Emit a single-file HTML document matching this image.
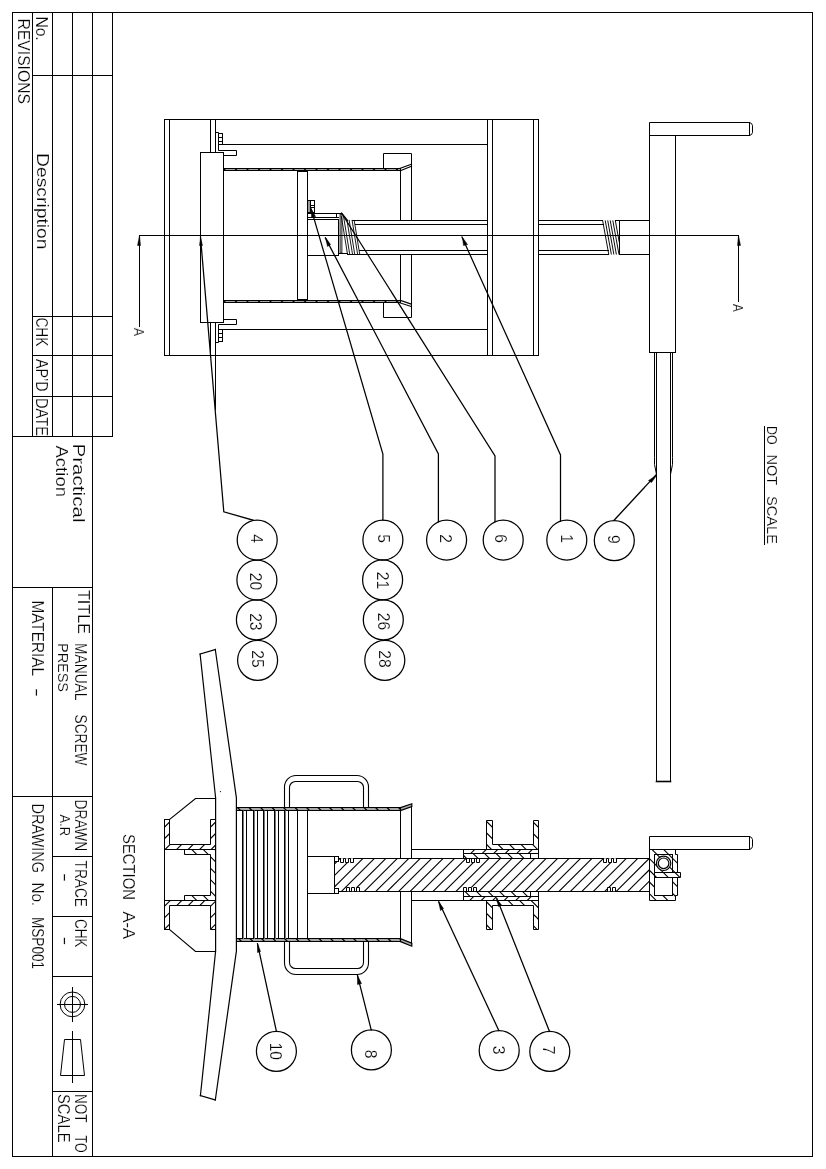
<!DOCTYPE html>
<html lang="en"><head><meta charset="utf-8"><title>MANUAL SCREW PRESS - MSP001</title>
<style>
html,body{margin:0;padding:0;background:#fff;}
body{width:826px;height:1169px;overflow:hidden;}
svg{display:block;}
g.txt{opacity:0.999;}
text{font-family:"Liberation Sans",sans-serif;fill:#000;stroke:#fff;stroke-width:0.18px;stroke-linejoin:round;}
</style></head><body>
<svg width="826" height="1169" viewBox="0 0 826 1169">
<defs>
<clipPath id="c1"><polygon points="223.50,168.50 400.50,168.50 400.50,170.50 223.50,170.50"/></clipPath>
<clipPath id="c2"><polygon points="223.50,300.50 400.50,300.50 400.50,302.50 223.50,302.50"/></clipPath>
<clipPath id="c3"><polygon points="164.50,819.50 169.50,819.50 169.50,844.50 210.50,844.50 210.50,819.50 215.50,819.50 215.50,849.50 164.50,849.50"/></clipPath>
<clipPath id="c4"><polygon points="164.50,929.50 169.50,929.50 169.50,905.50 210.50,905.50 210.50,929.50 215.50,929.50 215.50,900.50 164.50,900.50"/></clipPath>
<clipPath id="c5"><polygon points="184.50,849.50 215.50,849.50 215.50,900.50 184.50,900.50 184.50,895.50 210.50,895.50 210.50,854.50 184.50,854.50"/></clipPath>
<clipPath id="c6"><polygon points="236.50,807.50 400.50,807.50 400.50,810.50 236.50,810.50"/></clipPath>
<clipPath id="c7"><polygon points="236.50,938.50 400.50,938.50 400.50,941.50 236.50,941.50"/></clipPath>
<clipPath id="c8"><polygon points="334.50,858.50 649.50,858.50 649.50,891.50 334.50,891.50"/></clipPath>
<clipPath id="c9"><polygon points="463.50,849.50 538.50,849.50 538.50,853.50 463.50,853.50"/></clipPath>
<clipPath id="c10"><polygon points="463.50,853.50 530.50,853.50 530.50,858.50 463.50,858.50"/></clipPath>
<clipPath id="c11"><polygon points="463.50,896.50 538.50,896.50 538.50,900.50 463.50,900.50"/></clipPath>
<clipPath id="c12"><polygon points="463.50,891.50 530.50,891.50 530.50,896.50 463.50,896.50"/></clipPath>
<clipPath id="c13"><polygon points="486.50,820.50 492.50,820.50 492.50,844.50 533.50,844.50 533.50,820.50 538.50,820.50 538.50,849.50 486.50,849.50"/></clipPath>
<clipPath id="c14"><polygon points="486.50,929.50 492.50,929.50 492.50,905.50 533.50,905.50 533.50,929.50 538.50,929.50 538.50,900.50 486.50,900.50"/></clipPath>
<clipPath id="c15"><polygon points="649.50,849.50 675.50,849.50 675.50,854.50 677.50,854.50 677.50,895.50 675.50,895.50 675.50,900.50 649.50,900.50"/></clipPath>
<clipPath id="c16"><polygon points="654.50,872.50 680.50,872.50 680.50,877.50 654.50,877.50"/></clipPath>
</defs>
<rect x="0" y="0" width="826" height="1169" fill="#fff"/>
<g fill="none" stroke="#000" stroke-width="1" stroke-linecap="square">
<!-- sheet border -->
<rect x="12.50" y="12.50" width="800.00" height="1144.00"/>
<!-- title block grid -->
<line x1="32.50" y1="12.50" x2="32.50" y2="436.50"/>
<line x1="72.50" y1="12.50" x2="72.50" y2="436.50"/>
<line x1="112.50" y1="12.50" x2="112.50" y2="436.50"/>
<line x1="52.50" y1="12.50" x2="52.50" y2="436.50"/>
<line x1="52.50" y1="587.50" x2="52.50" y2="1156.50"/>
<line x1="92.50" y1="12.50" x2="92.50" y2="1156.50"/>
<line x1="32.50" y1="75.50" x2="112.50" y2="75.50"/>
<line x1="32.50" y1="316.50" x2="112.50" y2="316.50"/>
<line x1="32.50" y1="355.50" x2="112.50" y2="355.50"/>
<line x1="32.50" y1="396.50" x2="112.50" y2="396.50"/>
<line x1="12.50" y1="436.50" x2="112.50" y2="436.50"/>
<line x1="12.50" y1="587.50" x2="92.50" y2="587.50"/>
<line x1="12.50" y1="796.50" x2="92.50" y2="796.50"/>
<line x1="52.50" y1="856.50" x2="92.50" y2="856.50"/>
<line x1="52.50" y1="916.50" x2="92.50" y2="916.50"/>
<line x1="52.50" y1="976.50" x2="92.50" y2="976.50"/>
<line x1="52.50" y1="1091.50" x2="92.50" y2="1091.50"/>
<!-- projection symbol -->
<circle cx="72.50" cy="1004.40" r="12.40"/>
<circle cx="72.50" cy="1004.40" r="8.00"/>
<line x1="57.50" y1="1004.50" x2="87.50" y2="1004.50"/>
<line x1="72.50" y1="987.50" x2="72.50" y2="1021.50"/>
<polygon points="64.50,1039.50 80.50,1039.50 84.50,1075.50 60.50,1075.50" stroke-linecap="butt"/>
<line x1="72.50" y1="1031.50" x2="72.50" y2="1082.50"/>
<!-- texts -->
<g class="txt">
<text transform="translate(17.60,18.50) rotate(90)" font-size="15.6" textLength="85.5" lengthAdjust="spacingAndGlyphs">REVISIONS</text>
<text transform="translate(35.50,16.40) rotate(90)" font-size="15.6" textLength="24.3" lengthAdjust="spacingAndGlyphs">No.</text>
<text transform="translate(37.40,153.00) rotate(90)" font-size="15.6" textLength="96.5" lengthAdjust="spacingAndGlyphs">Description</text>
<text transform="translate(36.30,317.40) rotate(90)" font-size="15.6" textLength="29.1" lengthAdjust="spacingAndGlyphs">CHK</text>
<text transform="translate(36.30,359.00) rotate(90)" font-size="15.6" textLength="32.5" lengthAdjust="spacingAndGlyphs">AP&#8217;D</text>
<text transform="translate(36.30,398.00) rotate(90)" font-size="15.6" textLength="38.1" lengthAdjust="spacingAndGlyphs">DATE</text>
<text transform="translate(73.20,443.40) rotate(90)" font-size="15.6" textLength="79.1" lengthAdjust="spacingAndGlyphs">Practical</text>
<text transform="translate(56.40,445.50) rotate(90)" font-size="15.6" textLength="51.5" lengthAdjust="spacingAndGlyphs">Action</text>
<text transform="translate(77.60,590.00) rotate(90)" font-size="15.6" textLength="44.0" lengthAdjust="spacingAndGlyphs">TITLE</text>
<text transform="translate(75.00,643.00) rotate(90)" font-size="15.6" textLength="57.5" lengthAdjust="spacingAndGlyphs">MANUAL</text>
<text transform="translate(75.00,714.50) rotate(90)" font-size="15.6" textLength="51.0" lengthAdjust="spacingAndGlyphs">SCREW</text>
<text transform="translate(58.00,643.00) rotate(90)" font-size="14.8" textLength="49.0" lengthAdjust="spacingAndGlyphs">PRESS</text>
<text transform="translate(32.00,600.50) rotate(90)" font-size="15.6" textLength="75.5" lengthAdjust="spacingAndGlyphs">MATERIAL</text>
<text transform="translate(32.00,687.70) rotate(90)" font-size="15.6" textLength="9.4" lengthAdjust="spacingAndGlyphs">-</text>
<text transform="translate(75.20,799.50) rotate(90)" font-size="15.6" textLength="51.6" lengthAdjust="spacingAndGlyphs">DRAWN</text>
<text transform="translate(60.20,814.50) rotate(90)" font-size="14.8" textLength="21.5" lengthAdjust="spacingAndGlyphs">A.R</text>
<text transform="translate(75.20,860.50) rotate(90)" font-size="15.6" textLength="46.5" lengthAdjust="spacingAndGlyphs">TRACE</text>
<text transform="translate(59.50,872.80) rotate(90)" font-size="15.6" textLength="9.4" lengthAdjust="spacingAndGlyphs">-</text>
<text transform="translate(75.20,919.00) rotate(90)" font-size="15.6" textLength="28.6" lengthAdjust="spacingAndGlyphs">CHK</text>
<text transform="translate(59.50,936.40) rotate(90)" font-size="15.6" textLength="8.9" lengthAdjust="spacingAndGlyphs">-</text>
<text transform="translate(31.90,803.40) rotate(90)" font-size="15.6" textLength="69.6" lengthAdjust="spacingAndGlyphs">DRAWING</text>
<text transform="translate(31.90,882.40) rotate(90)" font-size="15.6" textLength="23.7" lengthAdjust="spacingAndGlyphs">No.</text>
<text transform="translate(31.90,917.00) rotate(90)" font-size="15.6" textLength="52.0" lengthAdjust="spacingAndGlyphs">MSP001</text>
<text transform="translate(75.00,1094.00) rotate(90)" font-size="15.6" textLength="28.5" lengthAdjust="spacingAndGlyphs">NOT</text>
<text transform="translate(75.00,1135.50) rotate(90)" font-size="15.6" textLength="17.1" lengthAdjust="spacingAndGlyphs">TO</text>
<text transform="translate(58.00,1094.00) rotate(90)" font-size="15.6" textLength="48.5" lengthAdjust="spacingAndGlyphs">SCALE</text>
<text transform="translate(122.90,834.00) rotate(90)" font-size="15.6" textLength="66.0" lengthAdjust="spacingAndGlyphs">SECTION</text>
<text transform="translate(122.90,911.50) rotate(90)" font-size="15.6" textLength="27.5" lengthAdjust="spacingAndGlyphs">A-A</text>
<text transform="translate(134.00,327.90) rotate(90)" font-size="14.5" textLength="8.1" lengthAdjust="spacingAndGlyphs">A</text>
<text transform="translate(732.90,303.90) rotate(90)" font-size="14.5" textLength="7.7" lengthAdjust="spacingAndGlyphs">A</text>
<text transform="translate(766.60,426.00) rotate(90)" font-size="14.6" textLength="18.6" lengthAdjust="spacingAndGlyphs">DO</text>
<text transform="translate(766.60,454.50) rotate(90)" font-size="14.6" textLength="30.5" lengthAdjust="spacingAndGlyphs">NOT</text>
<text transform="translate(766.60,496.00) rotate(90)" font-size="14.6" textLength="48.0" lengthAdjust="spacingAndGlyphs">SCALE</text>
</g>
<line x1="764.50" y1="426.50" x2="764.50" y2="544.50"/>
<!-- ================= TOP VIEW (elevation) ================= -->
<line x1="164.50" y1="119.50" x2="538.50" y2="119.50"/>
<line x1="164.50" y1="355.50" x2="538.50" y2="355.50"/>
<line x1="164.50" y1="119.50" x2="164.50" y2="355.50"/>
<line x1="169.50" y1="119.50" x2="169.50" y2="355.50"/>
<line x1="487.50" y1="119.50" x2="487.50" y2="355.50"/>
<line x1="492.50" y1="119.50" x2="492.50" y2="355.50"/>
<line x1="533.50" y1="119.50" x2="533.50" y2="355.50"/>
<line x1="538.50" y1="119.50" x2="538.50" y2="355.50"/>
<line x1="210.50" y1="119.50" x2="210.50" y2="152.50"/>
<line x1="215.50" y1="119.50" x2="215.50" y2="152.50"/>
<line x1="210.50" y1="322.50" x2="210.50" y2="355.50"/>
<line x1="215.50" y1="322.50" x2="215.50" y2="409.50"/>
<rect x="200.50" y="152.50" width="23.00" height="170.00"/>
<line x1="222.50" y1="144.50" x2="487.50" y2="144.50"/>
<line x1="222.50" y1="329.50" x2="487.50" y2="329.50"/>
<polyline points="215.50,132.50 218.50,132.50 218.50,150.50 236.50,150.50 236.50,155.50 223.50,155.50"/>
<rect x="218.50" y="133.50" width="4.00" height="11.00"/>
<line x1="218.50" y1="137.50" x2="222.50" y2="137.50"/>
<line x1="218.50" y1="141.50" x2="222.50" y2="141.50"/>
<polyline points="215.50,342.50 218.50,342.50 218.50,324.50 236.50,324.50 236.50,319.50 223.50,319.50"/>
<rect x="218.50" y="329.50" width="4.00" height="12.00"/>
<line x1="218.50" y1="333.50" x2="222.50" y2="333.50"/>
<line x1="218.50" y1="337.50" x2="222.50" y2="337.50"/>
<rect x="223.50" y="168.50" width="177.00" height="2.00" fill="#a8a8a8"/>
<path clip-path="url(#c1)" stroke-width="1.3" stroke-linecap="butt" d="M222.50,167.50L226.50,171.50M234.00,167.50L238.00,171.50M245.50,167.50L249.50,171.50M257.00,167.50L261.00,171.50M268.50,167.50L272.50,171.50M280.00,167.50L284.00,171.50M291.50,167.50L295.50,171.50M303.00,167.50L307.00,171.50M314.50,167.50L318.50,171.50M326.00,167.50L330.00,171.50M337.50,167.50L341.50,171.50M349.00,167.50L353.00,171.50M360.50,167.50L364.50,171.50M372.00,167.50L376.00,171.50M383.50,167.50L387.50,171.50M395.00,167.50L399.00,171.50"/>
<rect x="223.50" y="300.50" width="177.00" height="2.00" fill="#a8a8a8"/>
<path clip-path="url(#c2)" stroke-width="1.3" stroke-linecap="butt" d="M222.50,299.50L226.50,303.50M234.00,299.50L238.00,303.50M245.50,299.50L249.50,303.50M257.00,299.50L261.00,303.50M268.50,299.50L272.50,303.50M280.00,299.50L284.00,303.50M291.50,299.50L295.50,303.50M303.00,299.50L307.00,303.50M314.50,299.50L318.50,303.50M326.00,299.50L330.00,303.50M337.50,299.50L341.50,303.50M349.00,299.50L353.00,303.50M360.50,299.50L364.50,303.50M372.00,299.50L376.00,303.50M383.50,299.50L387.50,303.50M395.00,299.50L399.00,303.50"/>
<polyline points="400.30,168.20 411.50,164.20" stroke-width="1.15"/>
<polyline points="400.30,170.80 411.50,166.20" stroke-width="1.15"/>
<polyline points="400.30,303.00 411.50,306.60" stroke-width="1.15"/>
<polyline points="400.30,300.40 411.50,304.20" stroke-width="1.15"/>
<line x1="400.50" y1="170.50" x2="400.50" y2="220.50"/>
<line x1="400.50" y1="254.50" x2="400.50" y2="300.50"/>
<polyline points="383.50,168.50 383.50,153.50 411.50,153.50 411.50,220.50"/>
<polyline points="383.50,302.50 383.50,317.50 411.50,317.50 411.50,254.50"/>
<rect x="297.50" y="171.50" width="10.00" height="128.00"/>
<rect x="307.50" y="200.50" width="7.00" height="12.00"/>
<rect x="307.50" y="200.50" width="3.00" height="12.00" fill="#999"/>
<line x1="310.50" y1="205.50" x2="314.50" y2="205.50"/>
<line x1="310.50" y1="207.50" x2="314.50" y2="207.50"/>
<line x1="307.50" y1="213.50" x2="341.50" y2="213.50"/>
<line x1="307.50" y1="255.50" x2="338.50" y2="255.50"/>
<line x1="338.50" y1="219.50" x2="338.50" y2="255.50"/>
<line x1="307.50" y1="217.50" x2="338.50" y2="217.50"/>
<line x1="307.50" y1="219.50" x2="338.50" y2="219.50"/>
<line x1="336.50" y1="213.50" x2="336.50" y2="217.50"/>
<rect x="340.0" y="214.5" width="2.0" height="38.5" fill="#aaa" stroke-width="0.7"/>
<polyline points="338.50,253.50 347.50,253.50"/>
<polyline points="341.50,213.00 347.50,220.40" stroke-width="1.2"/>
<polyline points="341.36,216.50 347.40,253.50" stroke-width="0.9"/>
<polyline points="343.56,216.50 349.60,253.50" stroke-width="0.9"/>
<polyline points="347.00,220.40 352.40,253.50" stroke-width="0.9"/>
<polyline points="349.20,220.40 354.60,253.50" stroke-width="0.9"/>
<polyline points="352.10,220.40 357.50,253.50" stroke-width="0.9"/>
<polyline points="354.20,220.40 359.60,253.50" stroke-width="0.9"/>
<line x1="352.50" y1="220.50" x2="487.50" y2="220.50"/>
<line x1="355.50" y1="224.50" x2="487.50" y2="224.50"/>
<line x1="359.50" y1="250.50" x2="487.50" y2="250.50"/>
<line x1="347.50" y1="254.50" x2="487.50" y2="254.50"/>
<line x1="538.50" y1="220.50" x2="602.50" y2="220.50"/>
<line x1="538.50" y1="224.50" x2="603.50" y2="224.50"/>
<line x1="538.50" y1="250.50" x2="608.50" y2="250.50"/>
<line x1="538.50" y1="254.50" x2="608.50" y2="254.50"/>
<polyline points="602.70,220.90 608.70,254.00" stroke-width="0.95"/>
<polyline points="605.30,220.90 611.30,254.00" stroke-width="0.95"/>
<polyline points="607.80,220.90 613.80,254.00" stroke-width="0.95"/>
<polyline points="610.30,220.90 616.30,254.00" stroke-width="0.95"/>
<polyline points="612.90,220.90 618.90,254.00" stroke-width="0.95"/>
<polyline points="615.40,220.90 619.20,242.00" stroke-width="0.95"/>
<line x1="619.50" y1="220.50" x2="619.50" y2="254.50"/>
<line x1="615.50" y1="220.50" x2="649.50" y2="220.50"/>
<line x1="619.50" y1="254.50" x2="649.50" y2="254.50"/>
<rect x="649.50" y="135.50" width="26.00" height="217.00"/>
<polyline points="649.50,135.50 649.50,122.50 749.50,122.50 751.50,123.50 752.50,125.50 752.50,132.50 751.50,134.50 749.50,135.50 675.50,135.50"/>
<line x1="749.50" y1="122.50" x2="749.50" y2="135.50"/>
<polyline points="654.50,352.50 654.50,457.50 654.50,464.50 656.50,474.50"/>
<polyline points="672.50,352.50 672.50,457.50 672.50,464.50 670.50,474.50"/>
<line x1="656.50" y1="352.50" x2="656.50" y2="781.50"/>
<line x1="670.50" y1="352.50" x2="670.50" y2="781.50"/>
<line x1="656.50" y1="781.50" x2="670.50" y2="781.50" stroke-width="1.6"/>
<line x1="139.50" y1="235.50" x2="738.50" y2="235.50"/>
<line x1="139.50" y1="235.50" x2="139.50" y2="326.50"/>
<polygon points="139.50,235.50 140.50,245.50 137.50,245.50" fill="#000" stroke-width="0.5" stroke-linecap="butt"/>
<line x1="738.50" y1="235.50" x2="738.50" y2="301.50"/>
<polygon points="738.50,235.50 740.50,245.50 737.50,245.50" fill="#000" stroke-width="0.5" stroke-linecap="butt"/>
<!-- ================= SECTION A-A ================= -->
<polyline points="200.10,654.10 215.30,649.50" stroke-width="1.2"/>
<polyline points="200.10,654.10 215.60,797.80 215.60,951.20 200.40,1095.60" stroke-width="1.2"/>
<polyline points="215.30,649.50 236.40,797.80 236.40,951.20 215.30,1100.00" stroke-width="1.2"/>
<polyline points="200.40,1095.60 215.30,1100.00" stroke-width="1.2"/>
<circle cx="220.4" cy="791.6" r="0.6" fill="#000" stroke="none"/>
<polyline points="215.50,798.50 195.50,798.50 169.50,819.50" stroke-width="1.2"/>
<polyline points="215.50,951.50 195.50,951.50 169.50,929.50" stroke-width="1.2"/>
<line x1="164.50" y1="819.50" x2="164.50" y2="929.50"/>
<path clip-path="url(#c3)" stroke-width="1.1" stroke-linecap="butt" d="M141.10,850.50L173.10,818.50M152.60,850.50L184.60,818.50M164.10,850.50L196.10,818.50M175.60,850.50L207.60,818.50M187.10,850.50L219.10,818.50M198.60,850.50L230.60,818.50M210.10,850.50L242.10,818.50"/>
<polygon points="164.50,819.50 169.50,819.50 169.50,844.50 210.50,844.50 210.50,819.50 215.50,819.50 215.50,849.50 164.50,849.50" stroke-linecap="butt"/>
<path clip-path="url(#c4)" stroke-width="1.1" stroke-linecap="butt" d="M140.30,930.50L171.30,899.50M151.80,930.50L182.80,899.50M163.30,930.50L194.30,899.50M174.80,930.50L205.80,899.50M186.30,930.50L217.30,899.50M197.80,930.50L228.80,899.50M209.30,930.50L240.30,899.50"/>
<polygon points="164.50,929.50 169.50,929.50 169.50,905.50 210.50,905.50 210.50,929.50 215.50,929.50 215.50,900.50 164.50,900.50" stroke-linecap="butt"/>
<path clip-path="url(#c5)" stroke-width="1.1" stroke-linecap="butt" d="M133.30,848.50L186.30,901.50M144.80,848.50L197.80,901.50M156.30,848.50L209.30,901.50M167.80,848.50L220.80,901.50M179.30,848.50L232.30,901.50M190.80,848.50L243.80,901.50M202.30,848.50L255.30,901.50M213.80,848.50L266.80,901.50"/>
<polygon points="184.50,849.50 215.50,849.50 215.50,900.50 184.50,900.50 184.50,895.50 210.50,895.50 210.50,854.50 184.50,854.50" stroke-linecap="butt"/>
<rect x="236.50" y="807.50" width="164.00" height="3.00" fill="#a8a8a8"/>
<path clip-path="url(#c6)" stroke-width="1.3" stroke-linecap="butt" d="M236.50,806.50L241.50,811.50M248.00,806.50L253.00,811.50M259.50,806.50L264.50,811.50M271.00,806.50L276.00,811.50M282.50,806.50L287.50,811.50M294.00,806.50L299.00,811.50M305.50,806.50L310.50,811.50M317.00,806.50L322.00,811.50M328.50,806.50L333.50,811.50M340.00,806.50L345.00,811.50M351.50,806.50L356.50,811.50M363.00,806.50L368.00,811.50M374.50,806.50L379.50,811.50M386.00,806.50L391.00,811.50M397.50,806.50L402.50,811.50"/>
<rect x="236.50" y="938.50" width="164.00" height="3.00" fill="#a8a8a8"/>
<path clip-path="url(#c7)" stroke-width="1.3" stroke-linecap="butt" d="M237.50,937.50L242.50,942.50M249.00,937.50L254.00,942.50M260.50,937.50L265.50,942.50M272.00,937.50L277.00,942.50M283.50,937.50L288.50,942.50M295.00,937.50L300.00,942.50M306.50,937.50L311.50,942.50M318.00,937.50L323.00,942.50M329.50,937.50L334.50,942.50M341.00,937.50L346.00,942.50M352.50,937.50L357.50,942.50M364.00,937.50L369.00,942.50M375.50,937.50L380.50,942.50M387.00,937.50L392.00,942.50M398.50,937.50L403.50,942.50"/>
<line x1="236.50" y1="807.50" x2="236.50" y2="941.50"/>
<path d="M242.50,811V938.5"/><path d="M243.50,811V938.5" stroke="#777"/>
<line x1="246.50" y1="810.50" x2="246.50" y2="938.50"/>
<path d="M253.50,811V938.5"/><path d="M254.50,811V938.5" stroke="#777"/>
<line x1="257.50" y1="810.50" x2="257.50" y2="938.50"/>
<path d="M263.50,811V938.5"/><path d="M264.50,811V938.5" stroke="#777"/>
<line x1="267.50" y1="810.50" x2="267.50" y2="938.50"/>
<path d="M274.50,811V938.5"/><path d="M275.50,811V938.5" stroke="#777"/>
<line x1="278.50" y1="810.50" x2="278.50" y2="938.50"/>
<path d="M284.50,811V938.5"/><path d="M285.50,811V938.5" stroke="#777"/>
<line x1="288.50" y1="810.50" x2="288.50" y2="938.50"/>
<rect x="297.50" y="810.50" width="10.00" height="128.00"/>
<polyline points="307.50,856.50 338.50,856.50 338.50,861.50 334.50,861.50"/>
<polyline points="307.50,893.50 338.50,893.50 338.50,888.50 334.50,888.50"/>
<line x1="334.50" y1="856.50" x2="334.50" y2="893.50"/>
<path d="M284.5,807.5 L284.5,787.0 A11.5,11.5 0 0 1 296.0,775.5 L357.0,775.5 A11.5,11.5 0 0 1 368.5,787.0 L368.5,807.5" stroke-width="1.1"/>
<path d="M289.5,807.5 L289.5,787.5 A6,6 0 0 1 295.5,781.5 L357.5,781.5 A6,6 0 0 1 363.5,787.5 L363.5,807.5" stroke-width="1.1"/>
<path d="M284.5,941.5 L284.5,963.0 A11.5,11.5 0 0 0 296.0,974.5 L357.0,974.5 A11.5,11.5 0 0 0 368.5,963.0 L368.5,941.5" stroke-width="1.1"/>
<path d="M289.5,941.5 L289.5,962.5 A6,6 0 0 0 295.5,968.5 L357.5,968.5 A6,6 0 0 0 363.5,962.5 L363.5,941.5" stroke-width="1.1"/>
<polygon points="400.50,807.60 411.80,803.80 411.80,806.60 400.50,810.60" fill="#a8a8a8" stroke-width="1.2" stroke-linecap="butt"/>
<polygon points="400.50,941.60 411.80,946.20 411.80,943.20 400.50,938.60" fill="#a8a8a8" stroke-width="1.2" stroke-linecap="butt"/>
<line x1="400.50" y1="810.50" x2="400.50" y2="858.50"/>
<line x1="400.50" y1="891.50" x2="400.50" y2="938.50"/>
<line x1="411.50" y1="806.50" x2="411.50" y2="858.50"/>
<line x1="411.50" y1="891.50" x2="411.50" y2="943.50"/>
<path clip-path="url(#c8)" stroke-width="1.1" stroke-linecap="butt" d="M306.00,892.50L341.00,857.50M317.45,892.50L352.45,857.50M328.90,892.50L363.90,857.50M340.35,892.50L375.35,857.50M351.80,892.50L386.80,857.50M363.25,892.50L398.25,857.50M374.70,892.50L409.70,857.50M386.15,892.50L421.15,857.50M397.60,892.50L432.60,857.50M409.05,892.50L444.05,857.50M420.50,892.50L455.50,857.50M431.95,892.50L466.95,857.50M443.40,892.50L478.40,857.50M454.85,892.50L489.85,857.50M466.30,892.50L501.30,857.50M477.75,892.50L512.75,857.50M489.20,892.50L524.20,857.50M500.65,892.50L535.65,857.50M512.10,892.50L547.10,857.50M523.55,892.50L558.55,857.50M535.00,892.50L570.00,857.50M546.45,892.50L581.45,857.50M557.90,892.50L592.90,857.50M569.35,892.50L604.35,857.50M580.80,892.50L615.80,857.50M592.25,892.50L627.25,857.50M603.70,892.50L638.70,857.50M615.15,892.50L650.15,857.50M626.60,892.50L661.60,857.50M638.05,892.50L673.05,857.50"/>
<polygon points="334.50,858.50 649.50,858.50 649.50,891.50 334.50,891.50" stroke-linecap="butt"/>
<rect x="334.50" y="856.50" width="4.00" height="5.00" fill="#fff"/>
<rect x="334.50" y="888.50" width="4.00" height="5.00" fill="#fff"/>
<rect x="340.50" y="858.30" width="13.00" height="4.00" fill="#fff" stroke="none"/>
<polyline points="340.50,858.50 340.50,862.50 343.50,862.50 343.50,858.50 345.50,858.50 345.50,862.50 348.50,862.50 348.50,858.50 350.50,858.50 350.50,862.50 353.50,862.50 353.50,858.50" stroke-linejoin="round"/>
<rect x="346.50" y="887.40" width="13.00" height="3.80" fill="#fff" stroke="none"/>
<polyline points="346.50,891.50 346.50,887.50 349.50,887.50 349.50,891.50 351.50,891.50 351.50,887.50 354.50,887.50 354.50,891.50 356.50,891.50 356.50,887.50 359.50,887.50 359.50,891.50" stroke-linejoin="round"/>
<rect x="466.50" y="858.30" width="13.00" height="4.00" fill="#fff" stroke="none"/>
<polyline points="466.50,858.50 466.50,862.50 469.50,862.50 469.50,858.50 471.50,858.50 471.50,862.50 474.50,862.50 474.50,858.50 476.50,858.50 476.50,862.50 479.50,862.50 479.50,858.50" stroke-linejoin="round"/>
<rect x="463.50" y="887.40" width="13.00" height="3.80" fill="#fff" stroke="none"/>
<polyline points="463.50,891.50 463.50,887.50 466.50,887.50 466.50,891.50 468.50,891.50 468.50,887.50 471.50,887.50 471.50,891.50 473.50,891.50 473.50,887.50 476.50,887.50 476.50,891.50" stroke-linejoin="round"/>
<rect x="603.50" y="858.30" width="13.00" height="4.00" fill="#fff" stroke="none"/>
<polyline points="603.50,858.50 603.50,862.50 606.50,862.50 606.50,858.50 608.50,858.50 608.50,862.50 611.50,862.50 611.50,858.50 613.50,858.50 613.50,862.50 616.50,862.50 616.50,858.50" stroke-linejoin="round"/>
<rect x="607.50" y="887.40" width="8.00" height="3.80" fill="#fff" stroke="none"/>
<polyline points="607.50,891.50 607.50,887.50 610.50,887.50 610.50,891.50 612.50,891.50 612.50,887.50 615.50,887.50 615.50,891.50" stroke-linejoin="round"/>
<line x1="411.50" y1="849.50" x2="463.50" y2="849.50"/>
<line x1="411.50" y1="900.50" x2="463.50" y2="900.50"/>
<path clip-path="url(#c9)" stroke-width="1.1" stroke-linecap="butt" d="M469.70,854.50L475.70,848.50M481.20,854.50L487.20,848.50M492.70,854.50L498.70,848.50M504.20,854.50L510.20,848.50M515.70,854.50L521.70,848.50M527.20,854.50L533.20,848.50"/>
<polygon points="463.50,849.50 538.50,849.50 538.50,853.50 463.50,853.50" stroke-linecap="butt"/>
<path clip-path="url(#c10)" stroke-width="1.1" stroke-linecap="butt" d="M460.60,852.50L467.60,859.50M472.10,852.50L479.10,859.50M483.60,852.50L490.60,859.50M495.10,852.50L502.10,859.50M506.60,852.50L513.60,859.50M518.10,852.50L525.10,859.50"/>
<polygon points="463.50,853.50 530.50,853.50 530.50,858.50 463.50,858.50" stroke-linecap="butt"/>
<path clip-path="url(#c11)" stroke-width="1.1" stroke-linecap="butt" d="M468.70,901.50L474.70,895.50M480.20,901.50L486.20,895.50M491.70,901.50L497.70,895.50M503.20,901.50L509.20,895.50M514.70,901.50L520.70,895.50M526.20,901.50L532.20,895.50"/>
<polygon points="463.50,896.50 538.50,896.50 538.50,900.50 463.50,900.50" stroke-linecap="butt"/>
<path clip-path="url(#c12)" stroke-width="1.1" stroke-linecap="butt" d="M464.10,890.50L471.10,897.50M475.60,890.50L482.60,897.50M487.10,890.50L494.10,897.50M498.60,890.50L505.60,897.50M510.10,890.50L517.10,897.50M521.60,890.50L528.60,897.50"/>
<polygon points="463.50,891.50 530.50,891.50 530.50,896.50 463.50,896.50" stroke-linecap="butt"/>
<line x1="530.50" y1="853.50" x2="538.50" y2="853.50"/>
<line x1="530.50" y1="896.50" x2="538.50" y2="896.50"/>
<line x1="538.50" y1="849.50" x2="538.50" y2="858.50"/>
<line x1="538.50" y1="891.50" x2="538.50" y2="900.50"/>
<path clip-path="url(#c13)" stroke-width="1.1" stroke-linecap="butt" d="M461.60,819.50L492.60,850.50M473.10,819.50L504.10,850.50M484.60,819.50L515.60,850.50M496.10,819.50L527.10,850.50M507.60,819.50L538.60,850.50M519.10,819.50L550.10,850.50M530.60,819.50L561.60,850.50"/>
<polygon points="486.50,820.50 492.50,820.50 492.50,844.50 533.50,844.50 533.50,820.50 538.50,820.50 538.50,849.50 486.50,849.50" stroke-linecap="butt"/>
<path clip-path="url(#c14)" stroke-width="1.1" stroke-linecap="butt" d="M461.10,899.50L492.10,930.50M472.60,899.50L503.60,930.50M484.10,899.50L515.10,930.50M495.60,899.50L526.60,930.50M507.10,899.50L538.10,930.50M518.60,899.50L549.60,930.50M530.10,899.50L561.10,930.50"/>
<polygon points="486.50,929.50 492.50,929.50 492.50,905.50 533.50,905.50 533.50,929.50 538.50,929.50 538.50,900.50 486.50,900.50" stroke-linecap="butt"/>
<path clip-path="url(#c15)" stroke-width="1.1" stroke-linecap="butt" d="M604.20,848.50L657.20,901.50M615.90,848.50L668.90,901.50M627.60,848.50L680.60,901.50M639.30,848.50L692.30,901.50M651.00,848.50L704.00,901.50M662.70,848.50L715.70,901.50M674.40,848.50L727.40,901.50"/>
<polygon points="649.50,849.50 675.50,849.50 675.50,854.50 677.50,854.50 677.50,895.50 675.50,895.50 675.50,900.50 649.50,900.50" stroke-linecap="butt"/>
<rect x="654.5" y="877.5" width="18" height="18" fill="#fff" stroke="none"/>
<rect x="654.50" y="854.50" width="18.00" height="41.00"/>
<circle cx="663.60" cy="863.30" r="7.20" fill="#fff" stroke-width="1.2"/>
<circle cx="663.60" cy="863.30" r="5.30" stroke-width="1.2"/>
<rect x="654.5" y="872.5" width="26" height="5" fill="#fff" stroke="none"/>
<path clip-path="url(#c16)" stroke-width="1.1" stroke-linecap="butt" d="M650.60,871.50L657.60,878.50M662.30,871.50L669.30,878.50M674.00,871.50L681.00,878.50"/>
<polygon points="654.50,872.50 680.50,872.50 680.50,877.50 654.50,877.50" stroke-linecap="butt"/>
<polyline points="649.50,849.50 649.50,836.50 749.50,836.50 751.50,837.50 752.50,839.50 752.50,846.50 751.50,848.50 749.50,849.50 675.50,849.50"/>
<line x1="749.50" y1="836.50" x2="749.50" y2="849.50"/>
<!-- ================= BALLOONS & LEADERS ================= -->
<g stroke-width="1.25">
<circle cx="614.30" cy="540.60" r="20.00"/>
<circle cx="566.80" cy="540.00" r="20.00"/>
<circle cx="503.20" cy="540.00" r="20.00"/>
<circle cx="446.60" cy="540.00" r="20.00"/>
<circle cx="382.90" cy="540.00" r="20.00"/>
<circle cx="257.20" cy="540.00" r="20.00"/>
<circle cx="382.60" cy="579.90" r="20.00"/>
<circle cx="383.30" cy="619.90" r="20.00"/>
<circle cx="384.80" cy="660.30" r="20.00"/>
<circle cx="256.90" cy="580.00" r="20.00"/>
<circle cx="256.40" cy="619.90" r="20.00"/>
<circle cx="257.60" cy="660.30" r="20.00"/>
<polyline points="614.30,520.00 656.00,475.00"/>
<polygon points="656.50,475.50 651.50,482.50 648.50,480.50" fill="#000" stroke-width="0.5" stroke-linecap="butt"/>
<polyline points="560.50,521.00 560.50,455.00 462.00,237.00"/>
<polygon points="462.50,237.50 467.50,244.50 463.50,245.50" fill="#000" stroke-width="0.5" stroke-linecap="butt"/>
<polyline points="495.00,521.50 495.00,456.00 342.00,213.80"/>
<polyline points="438.40,521.50 438.40,454.00 325.40,237.90"/>
<polygon points="325.50,237.50 330.50,244.50 327.50,246.50" fill="#000" stroke-width="0.5" stroke-linecap="butt"/>
<polyline points="382.90,520.00 382.90,454.00 311.20,209.00"/>
<polygon points="311.50,209.50 315.50,216.50 311.50,217.50" fill="#000" stroke-width="0.5" stroke-linecap="butt"/>
<polyline points="253.40,520.30 223.80,511.80 200.50,237.00"/>
<polygon points="200.50,237.50 202.50,245.50 199.50,245.50" fill="#000" stroke-width="0.5" stroke-linecap="butt"/>
<circle cx="276.40" cy="1051.30" r="20.00"/>
<circle cx="371.40" cy="1049.90" r="20.00"/>
<circle cx="499.20" cy="1050.50" r="20.00"/>
<circle cx="549.80" cy="1051.40" r="20.00"/>
<polyline points="276.40,1031.30 257.50,943.80"/>
<polygon points="257.50,943.50 260.50,951.50 257.50,952.50" fill="#000" stroke-width="0.5" stroke-linecap="butt"/>
<polyline points="371.20,1029.90 357.50,975.50"/>
<polygon points="357.50,975.50 361.50,983.50 357.50,984.50" fill="#000" stroke-width="0.5" stroke-linecap="butt"/>
<polyline points="498.80,1030.50 438.80,901.80"/>
<polygon points="438.50,901.50 443.50,908.50 440.50,910.50" fill="#000" stroke-width="0.5" stroke-linecap="butt"/>
<polyline points="549.50,1031.40 496.80,898.40"/>
<polygon points="496.50,898.50 501.50,905.50 498.50,906.50" fill="#000" stroke-width="0.5" stroke-linecap="butt"/>
</g>
<g class="txt">
<text transform="translate(607.92,539.30) rotate(90)" font-size="15.6" text-anchor="middle">9</text>
<text transform="translate(560.62,538.60) rotate(90)" font-size="15.6" text-anchor="middle">1</text>
<text transform="translate(495.22,538.60) rotate(90)" font-size="15.6" text-anchor="middle">6</text>
<text transform="translate(440.22,538.60) rotate(90)" font-size="15.6" text-anchor="middle">2</text>
<text transform="translate(377.52,538.60) rotate(90)" font-size="15.6" text-anchor="middle">5</text>
<text transform="translate(250.62,538.60) rotate(90)" font-size="15.6" text-anchor="middle">4</text>
<text transform="translate(377.02,580.40) rotate(90)" font-size="15.6" text-anchor="middle">21</text>
<text transform="translate(378.42,621.50) rotate(90)" font-size="15.6" text-anchor="middle">26</text>
<text transform="translate(378.82,659.00) rotate(90)" font-size="15.6" text-anchor="middle">28</text>
<text transform="translate(250.42,581.50) rotate(90)" font-size="15.6" text-anchor="middle">20</text>
<text transform="translate(250.22,621.80) rotate(90)" font-size="15.6" text-anchor="middle">23</text>
<text transform="translate(251.62,659.00) rotate(90)" font-size="15.6" text-anchor="middle">25</text>
<text transform="translate(269.82,1051.30) rotate(90)" font-size="15.6" text-anchor="middle">10</text>
<text transform="translate(364.82,1054.00) rotate(90)" font-size="15.6" text-anchor="middle">8</text>
<text transform="translate(492.62,1050.00) rotate(90)" font-size="15.6" text-anchor="middle">3</text>
<text transform="translate(543.22,1050.00) rotate(90)" font-size="15.6" text-anchor="middle">7</text>
</g>
</g>
</svg>
</body></html>
